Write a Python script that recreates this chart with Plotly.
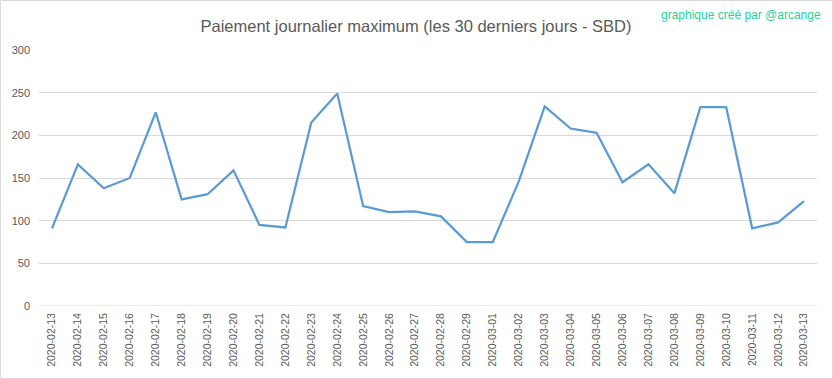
import plotly.graph_objects as go

dates = ["2020-02-13", "2020-02-14", "2020-02-15", "2020-02-16", "2020-02-17", "2020-02-18",
         "2020-02-19", "2020-02-20", "2020-02-21", "2020-02-22", "2020-02-23", "2020-02-24",
         "2020-02-25", "2020-02-26", "2020-02-27", "2020-02-28", "2020-02-29", "2020-03-01",
         "2020-03-02", "2020-03-03", "2020-03-04", "2020-03-05", "2020-03-06", "2020-03-07",
         "2020-03-08", "2020-03-09", "2020-03-10", "2020-03-11", "2020-03-12", "2020-03-13"]
max_payout = [91, 166, 138, 150, 227, 125, 131, 159, 95, 92, 215, 249, 117, 110, 111,
              105, 75, 75, 146, 234, 208, 203, 145, 166, 132, 233, 233, 91, 98, 123]
y_ticks = [0, 50, 100, 150, 200, 250, 300]

title_text = "Paiement journalier maximum (les 30 derniers jours - SBD)"
credit_text = "graphique créé par @arcange"

W, H = 833, 379
L, R, T, B = 39, 16, 50, 73
pw, ph = W - L - R, H - T - B

fig = go.Figure()
fig.add_trace(go.Scatter(
    x=dates, y=max_payout, mode="lines",
    line=dict(color="#5B9BD5", width=2.25),
    hoverinfo="x+y",
))

fig.update_layout(
    width=W, height=H,
    margin=dict(l=L, r=R, t=T, b=B, pad=0, autoexpand=False),
    paper_bgcolor="white", plot_bgcolor="white",
    showlegend=False,
    font=dict(family="Liberation Sans, Arial, sans-serif", color="#595959", size=11),
    title=dict(text=title_text, x=416 / W, xanchor="center", y=1 - 26 / H, yanchor="middle",
               font=dict(size=16.5, color="#595959", family="Liberation Sans, Arial, sans-serif")),
    xaxis=dict(type="category", range=[-0.5, len(dates) - 0.5], tickangle=-90,
               showgrid=False, zeroline=False, showline=False, ticks="", automargin=False,
               tickfont=dict(size=10.5, color="#595959"), ticklabelstandoff=4),
    yaxis=dict(range=[0, 300], tickvals=y_ticks, showgrid=True, gridcolor="#D9D9D9",
               gridwidth=1, zeroline=False, showline=False, ticks="", automargin=False,
               tickfont=dict(size=11, color="#595959"), ticklabelstandoff=8),
    annotations=[dict(text=credit_text, xref="paper", yref="paper",
                      x=(823 - L) / pw, y=(T + ph - 15) / ph, xanchor="right", yanchor="middle",
                      showarrow=False, font=dict(size=12, color="#1FD3A0"))],
    shapes=[
        dict(type="line", xref="paper", yref="y", x0=0, x1=1, y0=0, y1=0,
             line=dict(color="#D9D9D9", width=1)),
        dict(type="rect", xref="paper", yref="paper",
             x0=(0.5 - L) / pw, x1=(W - 0.5 - L) / pw,
             y0=(T + ph - (H - 0.5)) / ph, y1=(T + ph - 0.5) / ph,
             line=dict(color="#D9D9D9", width=1), fillcolor="rgba(0,0,0,0)", layer="below"),
    ],
)

fig.write_html("out.html",
               config={"displayModeBar": False},
               post_script="document.body.style.margin='0';document.body.style.padding='0';"
                           "document.body.style.overflow='hidden';")
